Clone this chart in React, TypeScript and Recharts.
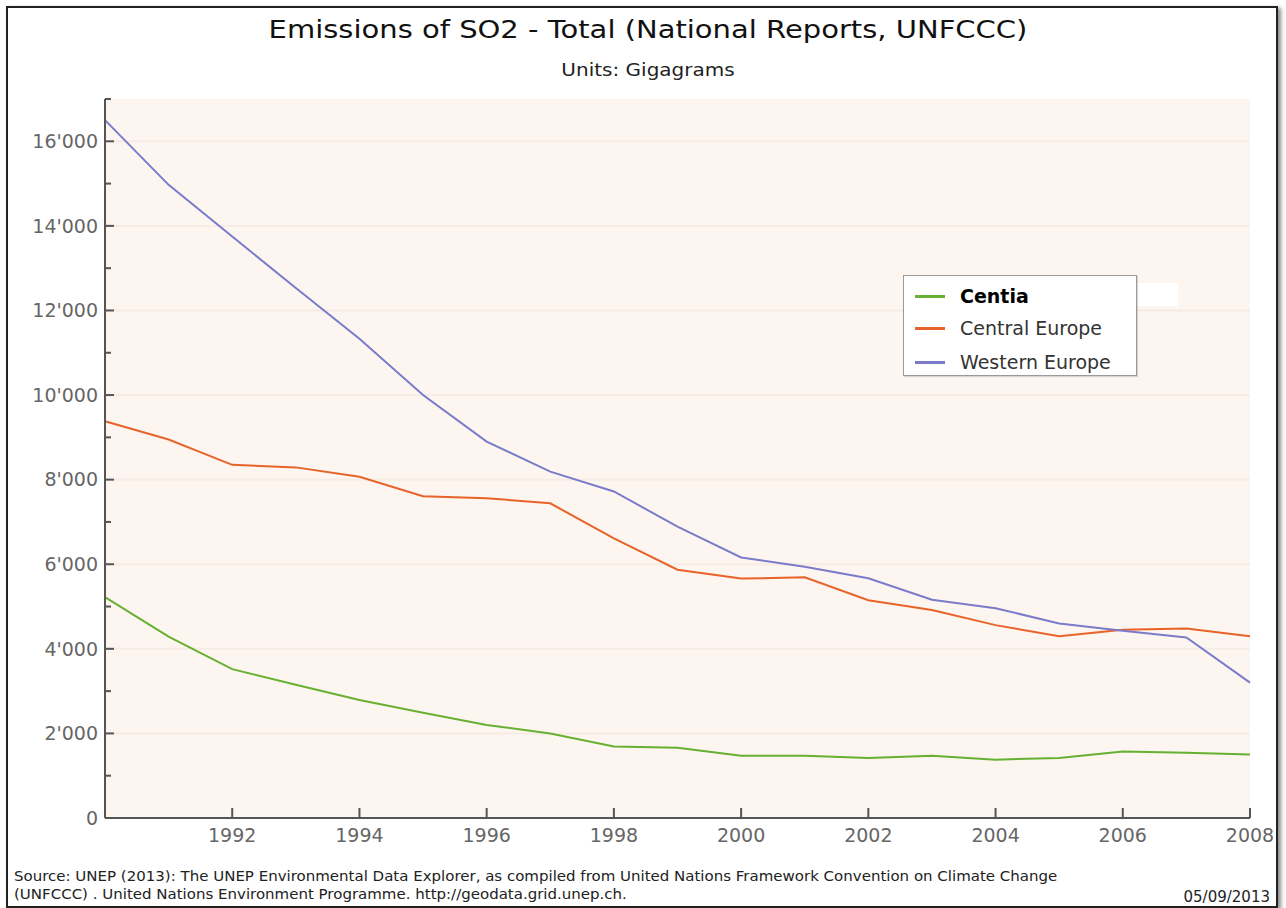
import * as React from "react";
import {
  LineChart,
  Line,
  XAxis,
  YAxis,
  CartesianGrid,
  Legend,
} from "recharts";

// values (Gigagrams)
const years = [
  1990, 1991, 1992, 1993, 1994, 1995, 1996, 1997, 1998, 1999, 2000, 2001, 2002,
  2003, 2004, 2005, 2006, 2007, 2008,
];
const centia = [
  5220, 4290, 3520, 3150, 2790, 2490, 2200, 2000, 1690, 1660, 1470, 1470, 1420,
  1470, 1380, 1420, 1570, 1540, 1500,
];
const centralEurope = [
  9380, 8950, 8350, 8290, 8070, 7610, 7560, 7440, 6610, 5870, 5660, 5690, 5150,
  4920, 4560, 4300, 4450, 4480, 4300,
];
const westernEurope = [
  16500, 14970, 13750, 12530, 11330, 10000, 8900, 8190, 7720, 6890, 6160, 5940,
  5670, 5160, 4960, 4600, 4430, 4270, 3200,
];

const xTicks = [1992, 1994, 1996, 1998, 2000, 2002, 2004, 2006, 2008];
const yTicks = [
  0, 1000, 2000, 3000, 4000, 5000, 6000, 7000, 8000, 9000, 10000, 11000, 12000,
  13000, 14000, 15000, 16000, 17000,
];
const majorTicks = yTicks.filter((v) => v % 2000 === 0);

const seriesNames = ["Centia", "Central Europe", "Western Europe"];
const seriesColors = ["#66b032", "#e8632a", "#7b7bcb"];

const data = years.map((year, i) => ({
  year,
  Centia: centia[i],
  "Central Europe": centralEurope[i],
  "Western Europe": westernEurope[i],
}));

const FONT = "'DejaVu Sans', Verdana, sans-serif";

const fmt = (v: number) => (v >= 1000 ? `${v / 1000}'000` : `${v}`);

const YTick = (props: any) => {
  const { x, y, payload } = props;
  const axisX = x + 7;
  const major = payload.value % 2000 === 0;
  return (
    <g>
      <line
        x1={axisX}
        x2={axisX + (major ? 9 : 6)}
        y1={y}
        y2={y}
        stroke="#555"
        strokeWidth={2}
      />
      {major && (
        <text
          x={x}
          y={y}
          dy="0.36em"
          textAnchor="end"
          fill="#666"
          fontSize={19}
          fontFamily={FONT}
        >
          {fmt(payload.value)}
        </text>
      )}
    </g>
  );
};

const XTick = (props: any) => {
  const { x, y, payload } = props;
  const axisY = y - 8;
  return (
    <g>
      <line
        x1={x}
        x2={x}
        y1={axisY}
        y2={axisY - 10}
        stroke="#555"
        strokeWidth={2}
      />
      <text
        x={x}
        y={axisY + 24}
        textAnchor="middle"
        fill="#666"
        fontSize={19}
        fontFamily={FONT}
      >
        {payload.value}
      </text>
    </g>
  );
};

const LegendBox = (props: any) => {
  const payload = [...(props.payload || [])].sort(
    (a: any, b: any) => seriesNames.indexOf(a.value) - seriesNames.indexOf(b.value)
  );
  const rowY = [21, 53, 87];
  return (
    <div style={{ position: "relative", width: 234, height: 101 }}>
      <div
        style={{
          position: "absolute",
          left: 234,
          top: 8,
          width: 41,
          height: 23,
          background: "#fff",
        }}
      />
      <div
        style={{
          position: "absolute",
          left: 0,
          top: 0,
          width: 234,
          height: 101,
          background: "#fff",
          border: "1px solid #9a9a9a",
          boxSizing: "border-box",
          boxShadow: "1px 1px 1px rgba(0,0,0,0.15)",
        }}
      />
      {payload.map((entry: any, i: number) => (
        <div key={entry.value}>
          <div
            style={{
              position: "absolute",
              left: 12,
              top: rowY[i] - 1,
              width: 30,
              height: 3,
              background: entry.color,
            }}
          />
          <div
            style={{
              position: "absolute",
              left: 57,
              top: rowY[i] - 12,
              lineHeight: "24px",
              fontFamily: FONT,
              fontSize: 19,
              fontWeight: i === 0 ? "bold" : "normal",
              color: i === 0 ? "#000" : "#333",
              whiteSpace: "nowrap",
            }}
          >
            {entry.value}
          </div>
        </div>
      ))}
    </div>
  );
};

export default function App() {
  return (
    <div
      style={{
        position: "absolute",
        left: 0,
        top: 0,
        width: 1286,
        height: 908,
        background: "#fff",
        fontFamily: FONT,
        overflow: "hidden",
      }}
    >
      <div
        style={{
          position: "absolute",
          left: 6,
          top: 6,
          width: 1272,
          height: 902,
          border: "2px solid #222",
          boxSizing: "border-box",
          boxShadow: "3px 2px 4px rgba(0,0,0,0.45)",
        }}
      />
      <div
        style={{
          position: "absolute",
          left: 0,
          top: 15,
          width: 1296,
          textAlign: "center",
          fontSize: 29,
          lineHeight: "29px",
          color: "#111",
          transform: "scaleY(0.88)",
        }}
      >
        Emissions of SO2 - Total (National Reports, UNFCCC)
      </div>
      <div
        style={{
          position: "absolute",
          left: 0,
          top: 60,
          width: 1296,
          textAlign: "center",
          fontSize: 20,
          lineHeight: "20px",
          color: "#222",
          transform: "scaleY(0.85)",
        }}
      >
        Units: Gigagrams
      </div>

      <div style={{ position: "absolute", left: 0, top: 0 }}>
        <LineChart
          width={1286}
          height={908}
          data={data}
          margin={{ top: 99, right: 36, bottom: 50, left: 45 }}
        >
          <CartesianGrid
            fill="#fdf5ef"
            vertical={false}
            horizontalValues={majorTicks}
            stroke="#f6ece5"
            strokeWidth={2}
          />
          <XAxis
            dataKey="year"
            type="number"
            domain={[1990, 2008]}
            ticks={xTicks}
            interval={0}
            height={40}
            tickSize={0}
            tickMargin={8}
            tick={<XTick />}
            axisLine={{ stroke: "#555", strokeWidth: 2 }}
            tickLine={false}
          />
          <YAxis
            type="number"
            domain={[0, 17000]}
            ticks={yTicks}
            interval={0}
            width={60}
            tickSize={0}
            tickMargin={7}
            tick={<YTick />}
            axisLine={{ stroke: "#555", strokeWidth: 2 }}
            tickLine={false}
          />
          <Legend
            layout="horizontal"
            verticalAlign="middle"
            align="center"
            content={<LegendBox />}
            wrapperStyle={{
              position: "absolute",
              left: 903,
              top: 275,
              width: 234,
              height: 101,
            }}
          />
          {seriesNames.map((name, i) => (
            <Line
              key={name}
              type="linear"
              dataKey={name}
              name={name}
              stroke={seriesColors[i]}
              strokeWidth={2}
              dot={false}
              activeDot={false}
              isAnimationActive={false}
            />
          ))}
        </LineChart>
      </div>

      <div
        style={{
          position: "absolute",
          left: 14,
          top: 867,
          fontSize: 15,
          lineHeight: "21px",
          color: "#222",
          whiteSpace: "nowrap",
          transform: "scaleY(0.9)",
          transformOrigin: "left top",
        }}
      >
        Source: UNEP (2013): The UNEP Environmental Data Explorer, as compiled
        from United Nations Framework Convention on Climate Change
        <br />
        (UNFCCC) . United Nations Environment Programme.
        http://geodata.grid.unep.ch.
      </div>
      <div
        style={{
          position: "absolute",
          right: 16,
          top: 889,
          fontSize: 15,
          lineHeight: "16px",
          color: "#222",
        }}
      >
        05/09/2013
      </div>
    </div>
  );
}
